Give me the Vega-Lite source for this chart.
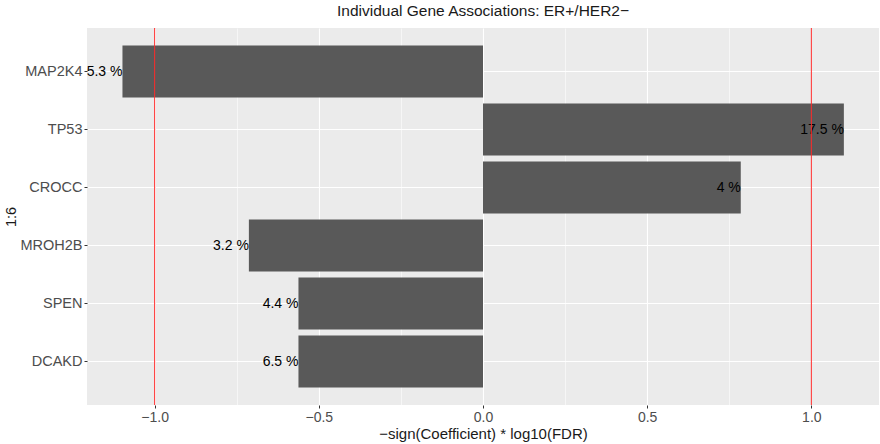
{
  "$schema": "https://vega.github.io/schema/vega-lite/v6.json",
  "autosize": {"type": "none"},
  "width": 792,
  "height": 377,
  "padding": {"left": 87, "top": 28, "right": 1, "bottom": 39},
  "background": "white",
  "title": {
    "text": "Individual Gene Associations: ER+/HER2−",
    "font": "Liberation Sans",
    "fontSize": 15.5,
    "fontWeight": "normal",
    "color": "#1a1a1a",
    "anchor": "middle",
    "offset": 8
  },
  "config": {
    "view": {"fill": "#ebebeb", "stroke": null},
    "font": "Liberation Sans"
  },
  "data": {
    "values": [
      {"gene": "MAP2K4", "score": -1.098, "label": "5.3 %"},
      {"gene": "TP53", "score": 1.099, "label": "17.5 %"},
      {"gene": "CROCC", "score": 0.785, "label": "4 %"},
      {"gene": "MROH2B", "score": -0.713, "label": "3.2 %"},
      {"gene": "SPEN", "score": -0.562, "label": "4.4 %"},
      {"gene": "DCAKD", "score": -0.562, "label": "6.5 %"}
    ]
  },
  "encoding": {
    "y": {
      "field": "gene",
      "type": "nominal",
      "sort": null,
      "title": "1:6",
      "scale": {"paddingInner": 0.1, "paddingOuter": 0.3},
      "axis": {
        "domain": false,
        "grid": true,
        "gridColor": "white",
        "gridWidth": 1.1,
        "bandPosition": 0.5,
        "tickColor": "#333333",
        "tickSize": 3,
        "labelFontSize": 14.5,
        "labelColor": "#4d4d4d",
        "labelPadding": 2,
        "titleFontSize": 14.5,
        "titleFontWeight": "normal",
        "titleColor": "#1a1a1a",
        "titlePadding": 1
      }
    }
  },
  "layer": [
    {
      "mark": {"type": "bar", "color": "#595959"},
      "encoding": {
        "x": {
          "field": "score",
          "type": "quantitative",
          "title": "−sign(Coefficient) * log10(FDR)",
          "scale": {"domain": [-1.206, 1.206], "nice": false, "zero": false},
          "axis": {
            "values": [-1, -0.75, -0.5, -0.25, 0, 0.25, 0.5, 0.75, 1],
            "labelExpr": "datum.value * 2 == round(datum.value * 2) ? format(datum.value, '.1f') : ''",
            "domain": false,
            "grid": true,
            "gridColor": "white",
            "gridWidth": {"condition": {"test": "datum.value * 2 != round(datum.value * 2)", "value": 0.55}, "value": 1.1},
            "tickColor": {"condition": {"test": "datum.value * 2 != round(datum.value * 2)", "value": "transparent"}, "value": "#333333"},
            "tickSize": 3,
            "labelFontSize": 14,
            "labelColor": "#4d4d4d",
            "labelPadding": 2,
            "labelFlush": false,
            "titleFontSize": 15,
            "titleFontWeight": "normal",
            "titleColor": "#1a1a1a",
            "titlePadding": 2
          }
        }
      }
    },
    {
      "mark": {"type": "text", "align": "right", "baseline": "middle", "fontSize": 14, "color": "black"},
      "encoding": {
        "x": {"field": "score", "type": "quantitative"},
        "text": {"field": "label"}
      }
    },
    {
      "data": {"values": [{"cut": -1}, {"cut": 1}]},
      "mark": {"type": "rule", "color": "#ff2a2a", "strokeWidth": 1},
      "encoding": {
        "x": {"field": "cut", "type": "quantitative"},
        "y": null
      }
    }
  ]
}
